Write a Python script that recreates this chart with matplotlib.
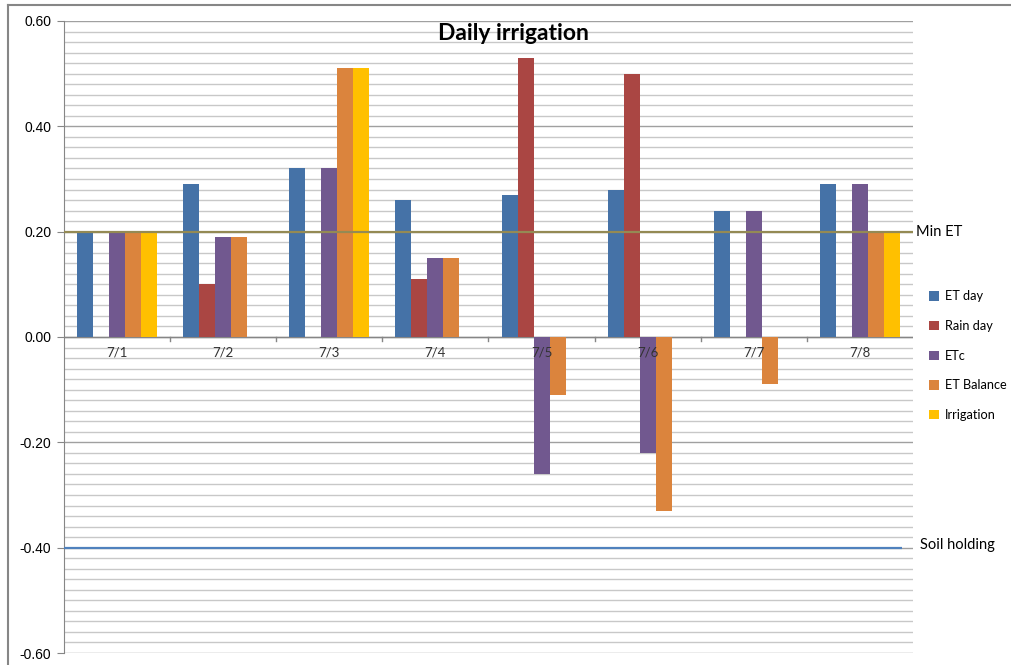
import numpy as np
import matplotlib
matplotlib.use("Agg")
import matplotlib.pyplot as plt
from matplotlib.patches import Patch
from matplotlib.lines import Line2D
from matplotlib.ticker import MultipleLocator

days = ["7/1", "7/2", "7/3", "7/4", "7/5", "7/6", "7/7", "7/8"]
series = ["ET day", "Rain day", "ETc", "ET Balance", "Irrigation"]
et_day = [0.20, 0.29, 0.32, 0.26, 0.27, 0.28, 0.24, 0.29]
rain_day = [0.00, 0.10, 0.00, 0.11, 0.53, 0.50, 0.00, 0.00]
etc = [0.20, 0.19, 0.32, 0.15, -0.26, -0.22, 0.24, 0.29]
et_balance = [0.20, 0.19, 0.51, 0.15, -0.11, -0.33, -0.09, 0.20]
irrigation = [0.20, 0.00, 0.51, 0.00, 0.00, 0.00, 0.00, 0.20]
min_et = 0.20
soil_holding = -0.40

colors = ["#4572A7", "#AA4643", "#71588F", "#DB843D", "#FFC000"]
values = [et_day, rain_day, etc, et_balance, irrigation]

fig = plt.figure(figsize=(10.12, 6.65), dpi=100)
ax = fig.add_axes([64 / 1012, 1 - 653 / 665, (913 - 64) / 1012, (653 - 21) / 665])

x = np.arange(len(days))
w = 16 / 106
for i, (vals, c) in enumerate(zip(values, colors)):
    ax.bar(x + (i - 2) * w, vals, width=w, color=c, zorder=3)

ax.hlines(min_et, -0.5, 7.5, color="#948A54", lw=1.6, zorder=4)
ax.hlines(soil_holding, -0.5, 7.4, color="#4F81BD", lw=1.6, zorder=4)

ax.set_xlim(-0.5, 7.5)
ax.set_ylim(-0.6, 0.6)
ax.yaxis.set_major_locator(MultipleLocator(0.2))
ax.yaxis.set_minor_locator(MultipleLocator(0.02))
ax.set_yticklabels([f"{v:.2f}" for v in ax.get_yticks()])
ax.grid(which="minor", axis="y", color="#C8C8C8", lw=1.0, zorder=0)
ax.grid(which="major", axis="y", color="#A0A0A0", lw=1.0, zorder=0)
ax.tick_params(axis="y", which="major", length=5, color="#868686",
               labelsize=10, pad=4)
ax.tick_params(axis="y", which="minor", length=0)
for lbl in ax.get_yticklabels():
    lbl.set_family("Liberation Sans")

for s in ["top", "right", "bottom"]:
    ax.spines[s].set_visible(False)
ax.spines["left"].set_color("#868686")

ax.set_xticks([])
ax.axhline(0, color="#868686", lw=1.0, zorder=2)
for b in np.arange(0.5, 7.5, 1.0):
    ax.plot([b, b], [0, -0.008], color="#868686", lw=1.0, clip_on=False, zorder=2)
for xi, d in zip(x, days):
    ax.text(xi, -0.018, d, ha="center", va="top", fontsize=9.5,
            family="Lato", color="#333333", zorder=5)

fig.text(513 / 1012, 1 - 33 / 665, "Daily irrigation", ha="center", va="center",
         fontsize=16.5, fontweight="bold", family="Lato")
ax.text(1.003, min_et, "Min ET", transform=ax.get_yaxis_transform(),
        ha="left", va="center", fontsize=10.5, family="Lato", clip_on=False)
ax.text(1.008, soil_holding + 0.006, "Soil holding", transform=ax.get_yaxis_transform(),
        ha="left", va="center", fontsize=10.5, family="Lato", clip_on=False)

handles = [Patch(facecolor=c, edgecolor="none") for c in colors]
fig.legend(handles, series, loc="upper left", bbox_to_anchor=(918 / 1012, 1 - 279 / 665),
           frameon=False, prop={"family": "Lato", "size": 9.2},
           handlelength=0.75, handleheight=0.75, handletextpad=0.45, labelspacing=1.38)

# chart frame
fig.add_artist(Line2D([8 / 1012, 8 / 1012], [0, 1 - 5 / 665], color="#868686", lw=1.5))
fig.add_artist(Line2D([8 / 1012, 1], [1 - 5 / 665, 1 - 5 / 665], color="#868686", lw=1.5))

fig.savefig("out.png", dpi=100)
